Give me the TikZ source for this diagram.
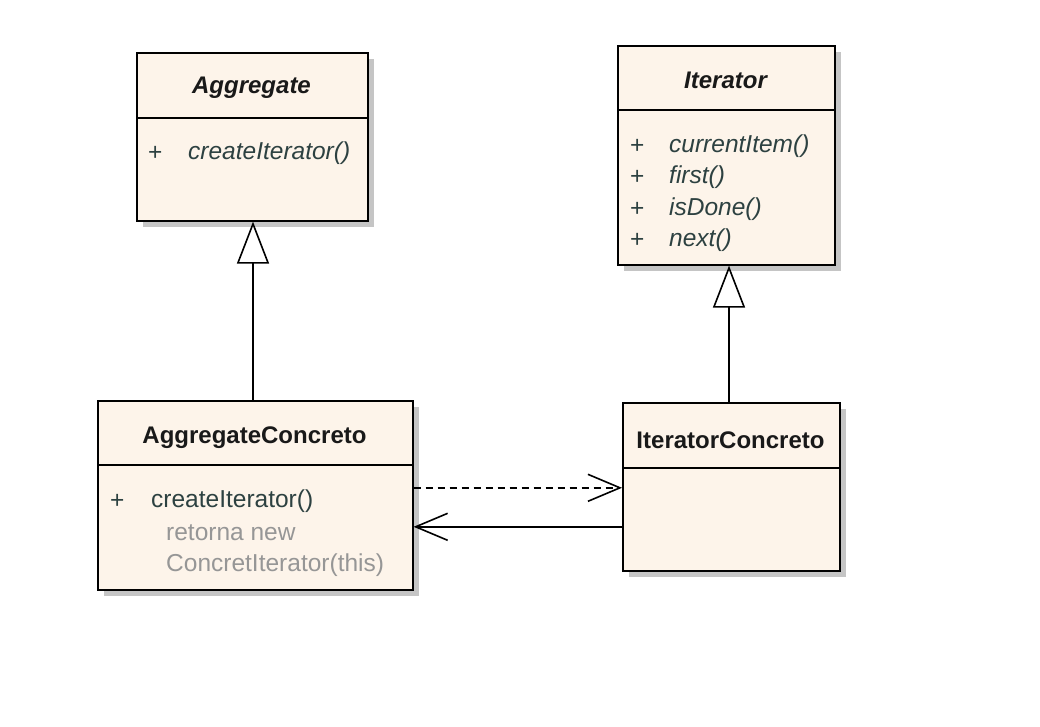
\documentclass[tikz,border=0pt]{standalone}
\usepackage{fontspec}
\setmainfont{Liberation Sans}
\usetikzlibrary{arrows.meta,shadows,calc}
\definecolor{classfill}{RGB}{253,244,234}
\definecolor{membertext}{RGB}{45,65,65}
\definecolor{notetext}{RGB}{150,150,150}
\tikzstyle{classbox}=[rectangle, fill=classfill, draw=black, line width=1.6pt, inner sep=0pt, anchor=north west, drop shadow={shadow xshift=6pt, shadow yshift=-6pt, fill=black!45}]
\tikzstyle{sepline}=[line width=1.6pt]
\tikzstyle{head}=[font=\fontsize{24}{28}\selectfont\bfseries, text=black!90, inner sep=0pt, anchor=center]
\tikzstyle{member}=[font=\fontsize{24.5}{28}\selectfont, text=membertext, inner sep=0pt, anchor=west]
\tikzstyle{note}=[member, text=notetext]
\tikzstyle{gen}=[line width=1.6pt, -{Triangle[fill=white, length=42pt, width=32pt]}]
\tikzstyle{dep}=[line width=1.6pt, -{Straight Barb[length=32pt, width=27pt]}]

\begin{document}
\begin{tikzpicture}[x=1pt, y=-1pt]
	\fill[white] (0,0) rectangle (1040,726);
	\useasboundingbox (0,0) rectangle (1040,726);

	% abstract classes
	\node[classbox, minimum width=231pt, minimum height=168pt](aggr) at (136,52){};
	\draw[sepline] ([yshift=-66pt]aggr.north west) -- ([yshift=-66pt]aggr.north east);
	\node[head, font=\fontsize{24}{28}\selectfont\bfseries\itshape](aggrname) at (251.5,88){Aggregate};
	\node[member](aggrplus) at (148,153){+};
	\node[member, font=\fontsize{24.5}{28}\selectfont\itshape](aggrop) at (188,153){createIterator()};

	\node[classbox, minimum width=217pt, minimum height=219pt](iter) at (617,45){};
	\draw[sepline] ([yshift=-65pt]iter.north west) -- ([yshift=-65pt]iter.north east);
	\node[head, font=\fontsize{24}{28}\selectfont\bfseries\itshape](itername) at (725.5,80){Iterator};
	\node[member](iterplusa) at (630,146){+};
	\node[member, font=\fontsize{24.5}{28}\selectfont\itshape](iteropa) at (669,146){currentItem()};
	\node[member](iterplusb) at (630,177){+};
	\node[member, font=\fontsize{24.5}{28}\selectfont\itshape](iteropb) at (669,177){first()};
	\node[member](iterplusc) at (630,209){+};
	\node[member, font=\fontsize{24.5}{28}\selectfont\itshape](iteropc) at (669,209){isDone()};
	\node[member](iterplusd) at (630,240){+};
	\node[member, font=\fontsize{24.5}{28}\selectfont\itshape](iteropd) at (669,240){next()};

	% concrete classes
	\node[classbox, minimum width=315pt, minimum height=189pt](aggrc) at (97,400){};
	\draw[sepline] ([yshift=-65pt]aggrc.north west) -- ([yshift=-65pt]aggrc.north east);
	\node[head](aggrcname) at (254.5,438){AggregateConcreto};
	\node[member](aggrcplus) at (110,501){+};
	\node[member](aggrcop) at (151,501){createIterator()};
	\node[note](aggrcnotea) at (166,533){retorna new};
	\node[note](aggrcnoteb) at (166,565){ConcretIterator(this)};

	\node[classbox, minimum width=217pt, minimum height=168pt](iterc) at (622,402){};
	\draw[sepline] ([yshift=-66pt]iterc.north west) -- ([yshift=-66pt]iterc.north east);
	\node[head](itercname) at (730.5,440){IteratorConcreto};

	% relations
	\draw[gen] (aggrc.north -| 253,0) -- (aggr.south -| 253,0);
	\draw[gen] (iterc.north -| 729,0) -- (iter.south -| 729,0);
	\draw[dep, dash pattern=on 7pt off 5pt] ([yshift=7.5pt]aggrc.east) -- ([yshift=7.5pt]aggrc.east -| iterc.west);
	\draw[dep] ([yshift=-31.5pt]aggrc.east -| iterc.west) -- ([yshift=-31.5pt]aggrc.east);
\end{tikzpicture}
\end{document}
